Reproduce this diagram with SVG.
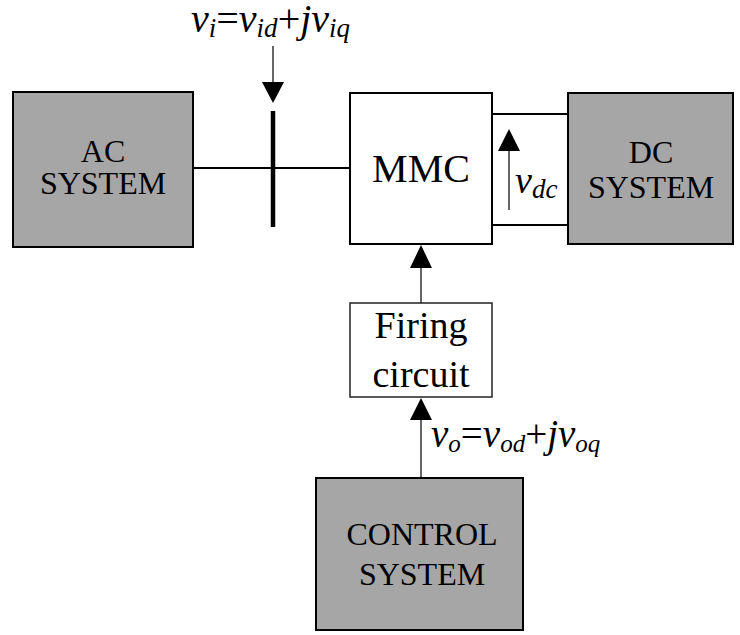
<svg xmlns="http://www.w3.org/2000/svg" width="740" height="635" viewBox="0 0 740 635">
<defs>
<style>
.sys{fill:#a6a6a6;stroke:#000;stroke-width:2}
.blk{fill:#fff;stroke:#000;stroke-width:2}
.fir{fill:#fff;stroke:#222;stroke-width:1.5}
.ln{stroke:#000;stroke-width:2;fill:none}
.thin{stroke:#333;stroke-width:1.5;fill:none}
.t{font-family:"Liberation Serif","Times New Roman",serif;fill:#000;text-anchor:middle}
.m{font-family:"Liberation Serif","Times New Roman",serif;font-style:italic;fill:#000}
.ah{fill:#000}
</style>
</defs>
<rect width="740" height="635" fill="#fff"/>
<g id="connectors">
<line class="ln" x1="193" y1="168" x2="350" y2="168"/>
<line x1="273" y1="111" x2="273" y2="227" stroke="#000" stroke-width="4.5"/>
<line class="thin" x1="273" y1="46" x2="273" y2="84"/>
<polygon class="ah" points="262,82 284,82 273,103"/>
<line class="ln" x1="492" y1="114" x2="568" y2="114"/>
<line class="ln" x1="492" y1="225" x2="568" y2="225"/>
<line class="thin" x1="509" y1="150" x2="509" y2="210"/>
<polygon class="ah" points="498,151 520,151 509,129"/>
<line class="thin" x1="421" y1="266" x2="421" y2="303"/>
<polygon class="ah" points="410,268 432,268 421,245"/>
<line class="thin" x1="421" y1="418" x2="421" y2="478"/>
<polygon class="ah" points="410,420 432,420 421,398"/>
</g>
<g id="ac">
<rect class="sys" x="13" y="92" width="180" height="155"/>
<text class="t" x="103" y="162" font-size="32">AC</text>
<text class="t" x="103" y="194" font-size="32">SYSTEM</text>
</g>
<g id="mmc">
<rect class="blk" x="350" y="93" width="142" height="151"/>
<text class="t" x="421" y="182" font-size="40">MMC</text>
</g>
<g id="dc">
<rect class="sys" x="568" y="93" width="165" height="151"/>
<text class="t" x="651" y="163" font-size="32">DC</text>
<text class="t" x="651" y="198" font-size="32">SYSTEM</text>
</g>
<g id="firing">
<rect class="fir" x="350" y="303" width="142" height="94"/>
<text class="t" x="421" y="338" font-size="38">Firing</text>
<text class="t" x="421" y="387" font-size="38">circuit</text>
</g>
<g id="control">
<rect class="sys" x="316" y="478" width="207" height="152"/>
<text class="t" x="422" y="545" font-size="32">CONTROL</text>
<text class="t" x="422" y="585" font-size="32">SYSTEM</text>
</g>
<g id="labels">
<text class="m" x="191" y="32" font-size="40">v<tspan font-size="27" dy="5">i</tspan><tspan dy="-5" font-style="normal">=</tspan>v<tspan font-size="27" dy="5">id</tspan><tspan dy="-5" font-style="normal">+</tspan>jv<tspan font-size="27" dy="5">iq</tspan></text>
<text class="m" x="515" y="193" font-size="38">v<tspan font-size="27" dy="5">dc</tspan></text>
<text class="m" x="431" y="447" font-size="39">v<tspan font-size="25" dy="5">o</tspan><tspan dy="-5" font-style="normal">=</tspan>v<tspan font-size="25" dy="5">od</tspan><tspan dy="-5" font-style="normal">+</tspan>jv<tspan font-size="25" dy="5">oq</tspan></text>
</g>
</svg>
